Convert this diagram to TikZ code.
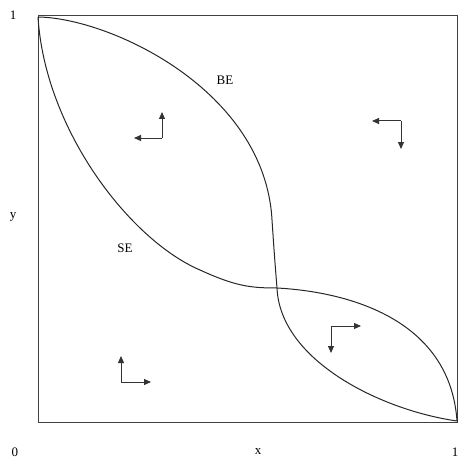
\documentclass[tikz,border=0pt]{standalone}
\usepackage{fontspec}
\setmainfont{Liberation Serif}
\usetikzlibrary{arrows.meta}
\begin{document}
\begin{tikzpicture}[x=1pt,y=-1pt,
  curve/.style={draw=black!85, line width=1pt},
  frame/.style={draw=black!75, line width=1pt},
  phase/.style={draw=black!80, line width=1pt, -{Triangle[length=7pt,width=6pt]}},
  lab/.style={font=\fontsize{13}{15}\selectfont, inner sep=0pt}]
\useasboundingbox (0,0) rectangle (462,468);
\node[frame, draw, minimum width=419pt, minimum height=407pt, inner sep=0pt, anchor=north west] (box) at (38,15) {};
\coordinate (tl) at (38,17);
\coordinate (br) at (457,421);
\coordinate (cross) at (277,288);
% BE curve
\draw[curve] (tl) .. controls (110,18) and (265,90) .. (272,220)
  .. controls (275,265) and (276,275) .. (cross)
  .. controls (280,360) and (380,410) .. (br);
% SE curve
\draw[curve] (tl) .. controls (45,130) and (130,240) .. (200,270)
  .. controls (235,286) and (250,288) .. (cross)
  .. controls (350,292) and (450,320) .. (br);
% labels
\node[lab] (one-y) at (13,15) {1};
\node[lab] (y) at (13,217) {y};
\node[lab] (zero) at (15,452) {0};
\node[lab] (x) at (258,452) {x};
\node[lab] (one-x) at (455,452) {1};
\node[lab] (be) at (225,80) {BE};
\node[lab] (se) at (125,248) {SE};
% phase arrows
\coordinate (c1) at (162,138); \coordinate (u1) at (162,112); \coordinate (l1) at (134,138);
\draw[phase] (c1) -- (u1); \draw[phase] (c1) -- (l1);
\coordinate (c2) at (401,121); \coordinate (d2) at (401,149); \coordinate (l2) at (372,121);
\draw[phase] (c2) -- (d2); \draw[phase] (c2) -- (l2);
\coordinate (c3) at (331,326); \coordinate (r3) at (361,326); \coordinate (d3) at (331,353);
\draw[phase] (c3) -- (r3); \draw[phase] (c3) -- (d3);
\coordinate (c4) at (121,382); \coordinate (u4) at (121,356); \coordinate (r4) at (151,382);
\draw[phase] (c4) -- (u4); \draw[phase] (c4) -- (r4);
\end{tikzpicture}
\end{document}
